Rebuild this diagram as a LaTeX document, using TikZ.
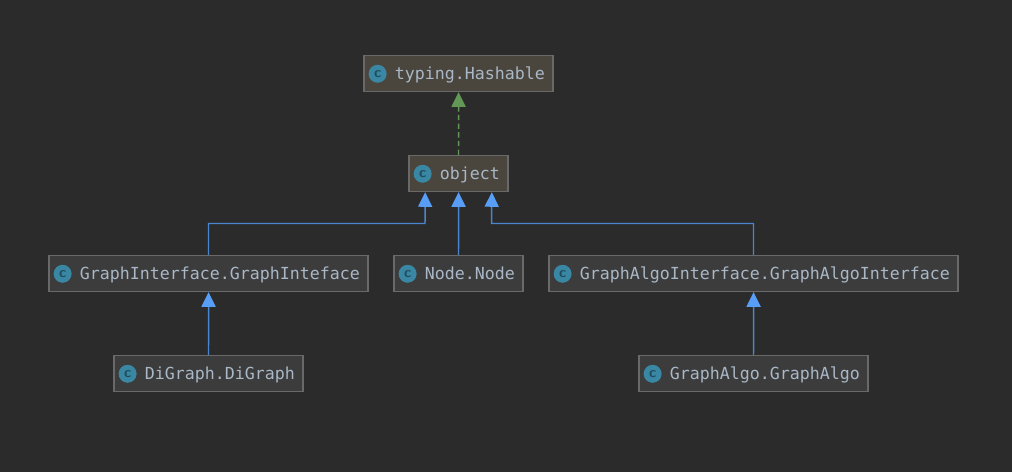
\documentclass[tikz,border=0pt]{standalone}
\usepackage{fontspec}
\setmonofont{DejaVu Sans Mono}
\usetikzlibrary{arrows.meta}
\definecolor{canvas}{HTML}{2B2B2B}
\definecolor{boxfill}{HTML}{3C3C3C}
\definecolor{boxroot}{HTML}{4A463E}
\definecolor{boxline}{HTML}{696969}
\definecolor{labelgrey}{HTML}{A9B7C6}
\definecolor{iconfill}{HTML}{3A87A3}
\definecolor{iconmark}{HTML}{1F4C5E}
\definecolor{inheritblue}{HTML}{4A86CF}
\definecolor{tipblue}{HTML}{589DF6}
\definecolor{implgreen}{HTML}{629755}
\tikzset{
  classbox/.style={draw=boxline, fill=boxfill, line width=0.9pt, text=labelgrey,
    font=\ttfamily\fontsize{12.46}{14}\selectfont, inner xsep=6.05pt,
    minimum height=27pt, inner ysep=0pt, text height=10.25pt, text depth=1.75pt},
  rootbox/.style={classbox, fill=boxroot},
  classicon/.style={circle, fill=iconfill, text=iconmark, inner sep=0pt, minimum size=13.5pt,
    font=\sffamily\bfseries\fontsize{11}{11}\selectfont},
  inherit/.style={draw=inheritblue, line width=1.1pt,
    -{Triangle[length=11pt, width=10.5pt, color=tipblue]}},
  realize/.style={draw=implgreen, line width=1.1pt, dash pattern=on 4pt off 2.5pt,
    -{Triangle[length=11pt, width=10.5pt, color=implgreen]}}
}
\newcommand{\cname}[1]{\hspace*{17.2pt}#1}

\begin{document}
\begin{tikzpicture}[x=0.75pt, y=-0.75pt]
  \fill[canvas] (0,0) rectangle (1012,472);
  \useasboundingbox (0,0) rectangle (1012,472);

  % classes
  \node[rootbox] (hashable) at (458.5,73.5) {\cname{typing.Hashable}};
  \node[rootbox] (object) at (458.5,173.5) {\cname{object}};
  \node[classbox] (graphinterface) at (208.5,273.5) {\cname{GraphInterface.GraphInteface}};
  \node[classbox] (node) at (458.5,273.5) {\cname{Node.Node}};
  \node[classbox] (algointerface) at (753.5,273.5) {\cname{GraphAlgoInterface.GraphAlgoInterface}};
  \node[classbox] (digraph) at (208.5,373.5) {\cname{DiGraph.DiGraph}};
  \node[classbox] (graphalgo) at (753.5,373.5) {\cname{GraphAlgo.GraphAlgo}};

  % icons
  \foreach \name in {hashable, object, graphinterface, node, algointerface, digraph, graphalgo} {
    \node[classicon] (\name icon) at ([xshift=10.7pt, yshift=-0.2pt]\name.west) {c};
  }

  % edges
  \coordinate (portleft) at ([xshift=-25pt]object.south);
  \coordinate (portright) at ([xshift=25pt]object.south);
  \coordinate (bendleft) at (425,223.5);
  \coordinate (bendright) at (491.5,223.5);
  \draw[realize] (object.north) -- ([xshift=0.06pt]hashable.south);
  \draw[inherit] (graphinterface.north) -- (graphinterface.north |- bendleft) -- (bendleft) -- (portleft);
  \draw[inherit] (node.north) -- ([xshift=0.06pt]object.south);
  \draw[inherit] (algointerface.north) -- (algointerface.north |- bendright) -- (bendright) -- (portright);
  \draw[inherit] (digraph.north) -- ([xshift=0.06pt]graphinterface.south);
  \draw[inherit] (graphalgo.north) -- ([xshift=0.06pt]algointerface.south);
\end{tikzpicture}
\end{document}
